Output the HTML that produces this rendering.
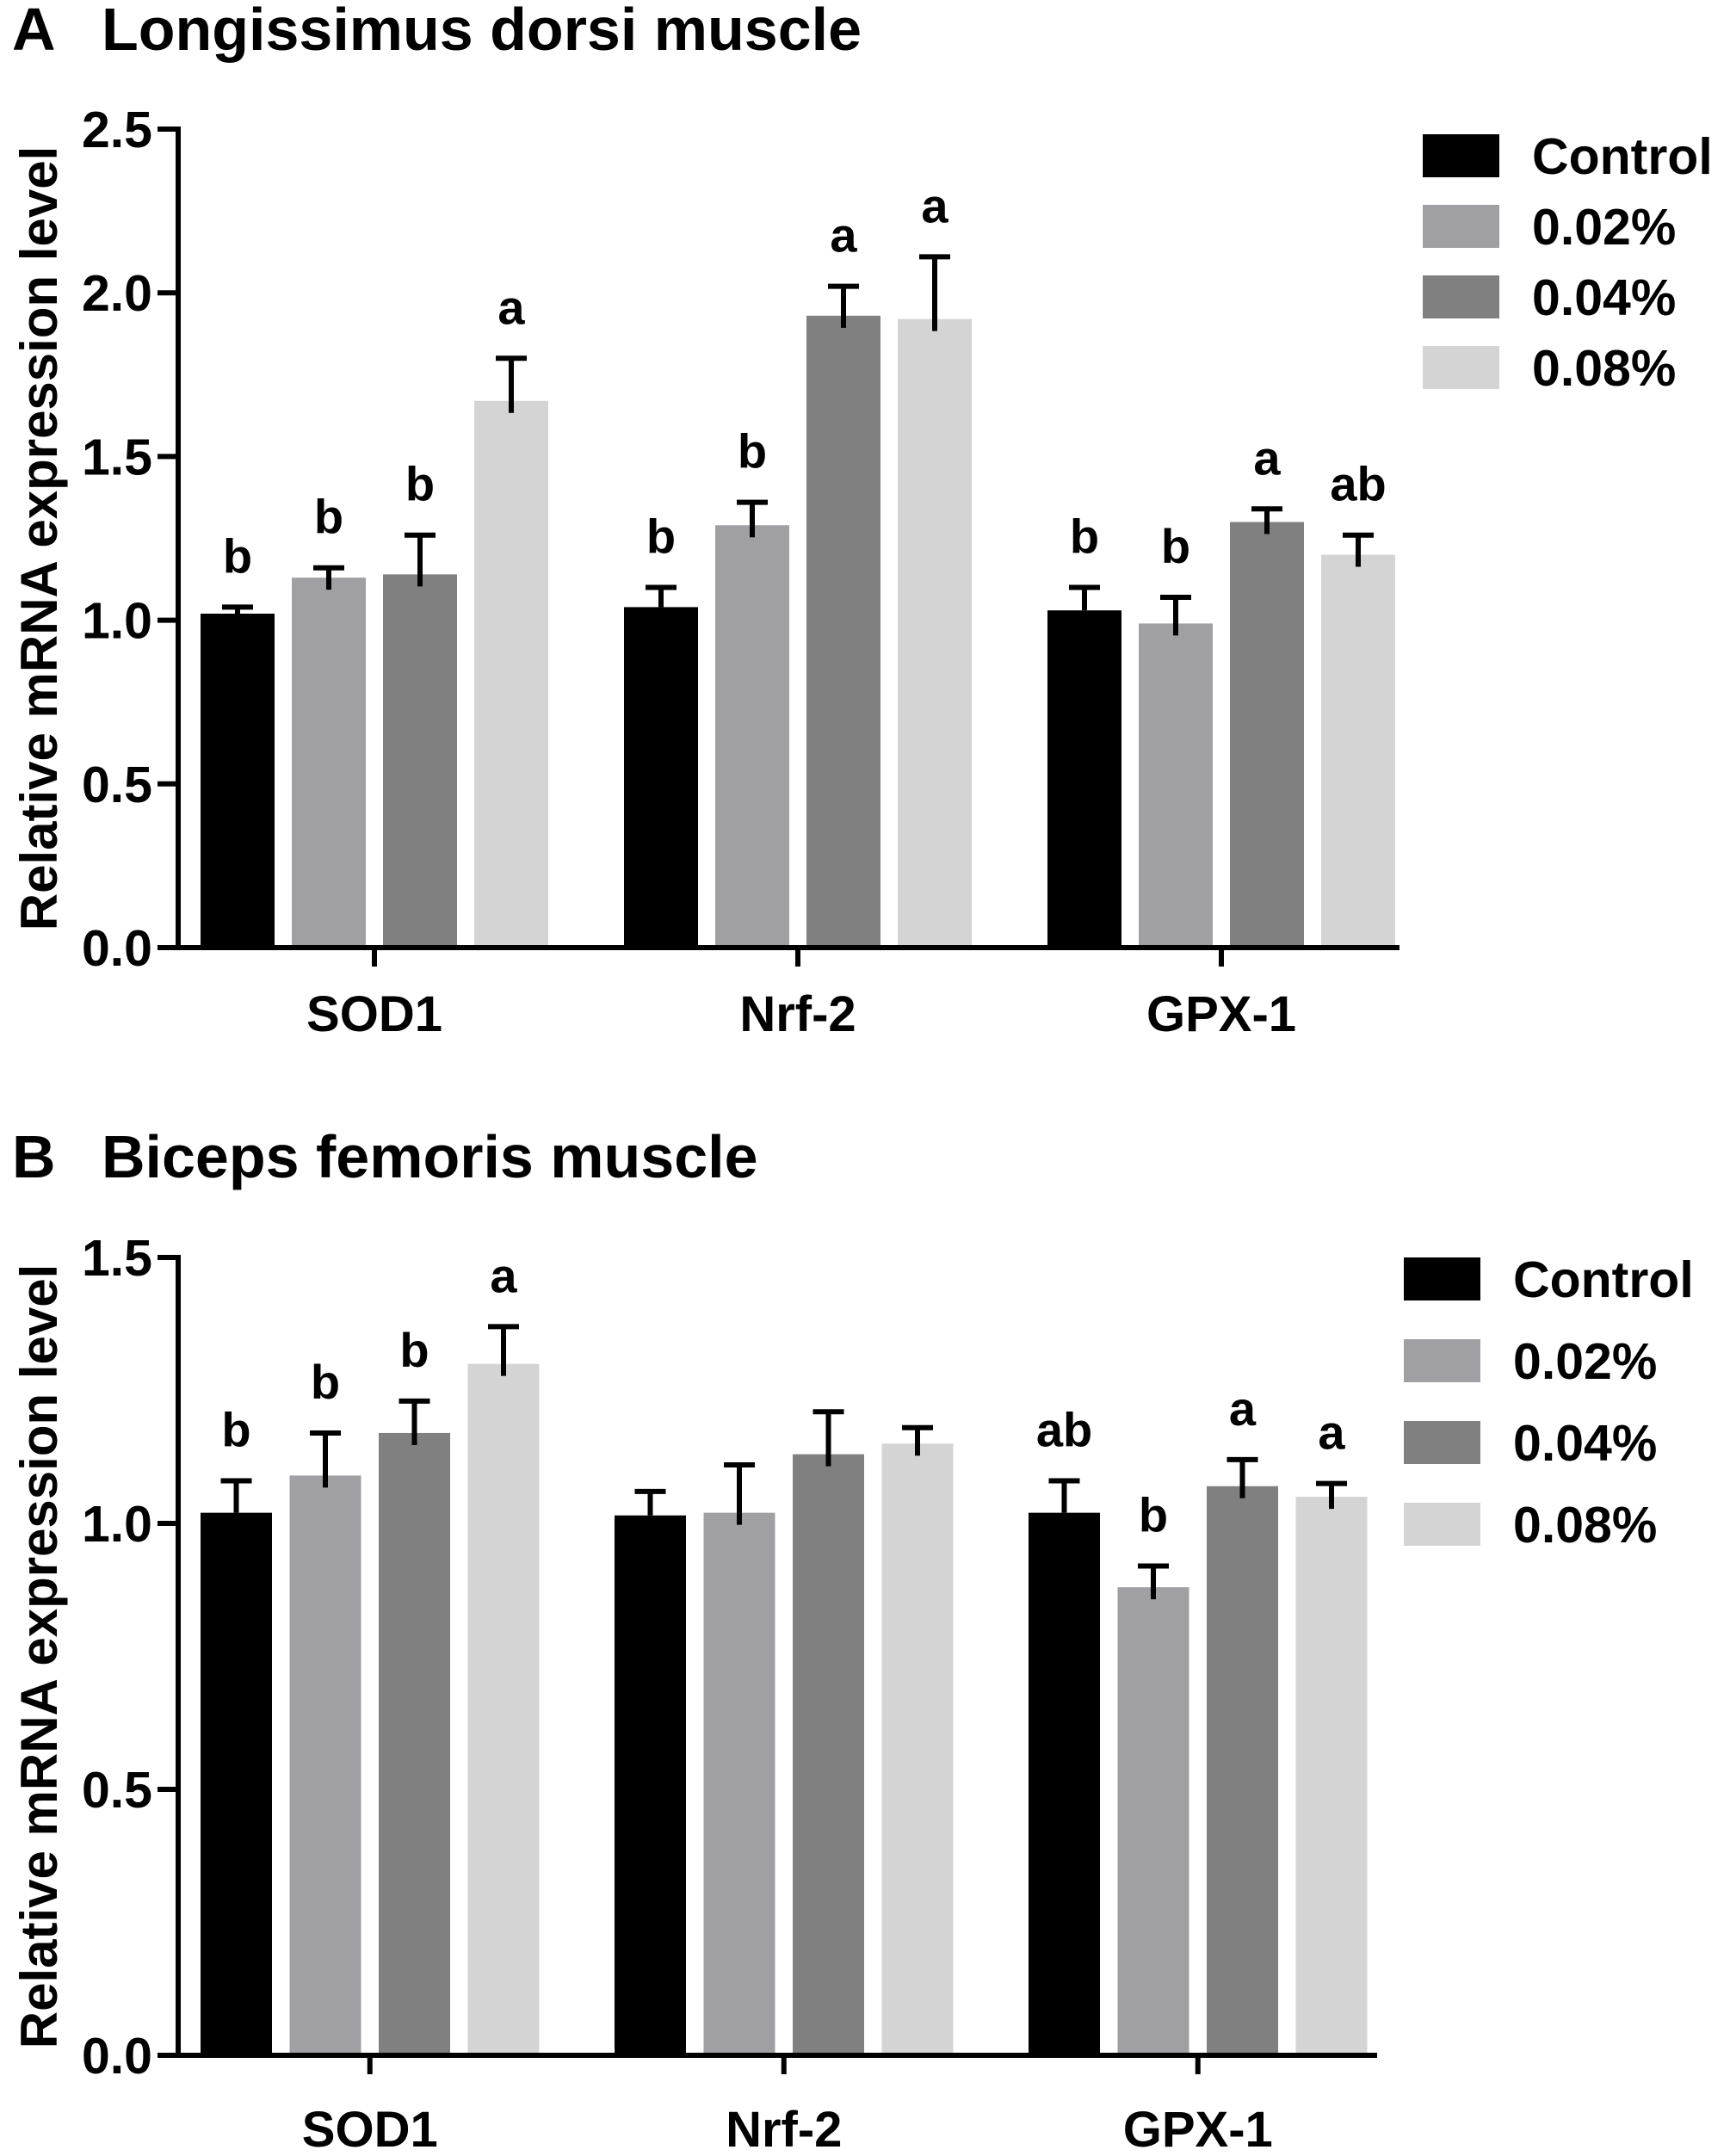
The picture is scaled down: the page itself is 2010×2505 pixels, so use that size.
<!DOCTYPE html>
<html><head><meta charset="utf-8"><style>
body{margin:0;background:#fff}
svg text{font-family:"Liberation Sans",Arial,sans-serif;font-weight:bold;fill:#000}
</style></head><body>
<svg id="chart" width="2010" height="2500" viewBox="0 0 2010 2500" xmlns="http://www.w3.org/2000/svg"></svg>
<script>
const categories = ["SOD1","Nrf-2","GPX-1"];
const seriesNames = ["Control","0.02%","0.04%","0.08%"];
const seriesColors = ["#000000","#a0a0a4","#808080","#d4d4d4"];
// Panel A values [category][series]
const valuesA = [[1.02,1.13,1.14,1.67],[1.04,1.29,1.93,1.92],[1.03,0.99,1.30,1.20]];
const errorsA = [[0.02,0.03,0.12,0.13],[0.06,0.07,0.09,0.19],[0.07,0.08,0.04,0.06]];
const lettersA = [["b","b","b","a"],["b","b","a","a"],["b","b","a","ab"]];
const ticksA = ["0.0","0.5","1.0","1.5","2.0","2.5"];
// Panel B values
const valuesB = [[1.02,1.09,1.17,1.30],[1.015,1.02,1.13,1.15],[1.02,0.88,1.07,1.05]];
const errorsB = [[0.06,0.08,0.06,0.07],[0.045,0.09,0.08,0.03],[0.06,0.04,0.05,0.025]];
const lettersB = [["b","b","b","a"],["","","",""],["ab","b","a","a"]];
const ticksB = ["0.0","0.5","1.0","1.5"];

const NS="http://www.w3.org/2000/svg";
const svg=document.getElementById('chart');
function mk(tag,attrs,parent,txt){const e=document.createElementNS(NS,tag);for(const k in attrs)e.setAttribute(k,attrs[k]);if(txt!==undefined)e.textContent=txt;(parent||svg).appendChild(e);return e;}

function drawPanel(p){
  const g=mk('g',{});
  
  
  const yScale=v=>p.y0-(v/p.ymax)*(p.y0-p.ytop);
  const tl=mk('text',{x:14,y:p.titleY,'font-size':70},g,p.letter);
  
  
  const t=mk('text',{x:118,y:p.titleY,'font-size':70},g,p.title);
  
  
  p.ticks.forEach(tk=>{
    const y=yScale(parseFloat(tk));
    mk('line',{x1:p.x0-24,x2:p.x0,y1:y,y2:y,stroke:'#000','stroke-width':6},g);
    const lt=mk('text',{x:p.x0-30,y:y+21,'font-size':59,'text-anchor':'end'},g,tk);
    
    
  });
  categories.forEach((c,ci)=>{
    const gx=p.barStart+ci*p.groupStep;
    p.values[ci].forEach((v,si)=>{
      const x=gx+si*p.barStep, y=yScale(v);
      const r=mk('rect',{x:x,y:y,width:p.barW,height:p.y0-y,fill:seriesColors[si]},g);
      
      
      const cx=x+p.barW/2, ey=yScale(v+p.errors[ci][si]);
      mk('line',{x1:cx,x2:cx,y1:y+(si===0?0:14),y2:ey,stroke:'#000','stroke-width':6},g);
      mk('line',{x1:cx-18,x2:cx+18,y1:ey,y2:ey,stroke:'#000','stroke-width':6},g);
      const L=p.letters[ci][si];
      if(L){const lt=mk('text',{x:cx,y:ey-40,'font-size':56,'text-anchor':'middle'},g,L);
        
        }
    });
    const tx=gx+(3*p.barStep+p.barW)/2;
    mk('line',{x1:tx,x2:tx,y1:p.y0,y2:p.y0+22,stroke:'#000','stroke-width':6},g);
    const cl=mk('text',{x:tx,y:p.catY,'font-size':58,'text-anchor':'middle'},g,c);
    
    
  });
  mk('line',{x1:p.x0,x2:p.x0,y1:p.ytop-3,y2:p.y0+3,stroke:'#000','stroke-width':6},g);
  mk('line',{x1:p.x0-3,x2:p.xend,y1:p.y0,y2:p.y0,stroke:'#000','stroke-width':6},g);
  const cy=(p.ytop+p.y0)/2;
  const yt=mk('text',{x:0,y:0,'font-size':60,'text-anchor':'middle',transform:`translate(66,${cy}) rotate(-90)`},g,'Relative mRNA expression level');
  
  
  seriesNames.forEach((n,si)=>{
    const y=p.legY+si*p.legStep;
    const r=mk('rect',{x:p.legX,y:y,width:89,height:50,fill:seriesColors[si]},g);
    
    
    const lt=mk('text',{x:p.legX+127,y:y+46,'font-size':59},g,n);
    
    
  });
}
drawPanel({id:'a',letter:'A',title:'Longissimus dorsi muscle',titleY:58,x0:207,xend:1626,y0:1101,ytop:150,ymax:2.5,ticks:ticksA,
  values:valuesA,errors:errorsA,letters:lettersA,barStart:233,barStep:106,barW:86,groupStep:492,catY:1198,legX:1653,legY:156,legStep:82});
drawPanel({id:'b',letter:'B',title:'Biceps femoris muscle',titleY:1368,x0:207,xend:1600,y0:2388,ytop:1461,ymax:1.5,ticks:ticksB,
  values:valuesB,errors:errorsB,letters:lettersB,barStart:233,barStep:103.5,barW:83,groupStep:481,catY:2494,legX:1631,legY:1461,legStep:95});
</script>
</body></html>
